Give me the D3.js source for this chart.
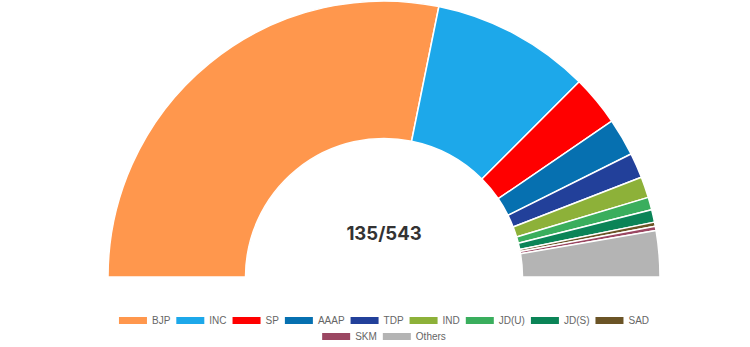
<!DOCTYPE html>
<html><head><meta charset="utf-8">
<script src="https://cdn.jsdelivr.net/npm/d3@7"></script>
<style>html,body{margin:0;padding:0;background:#fff;}svg{display:block;}</style>
</head><body>
<svg id="chart" width="750" height="347"></svg>
<script>
const parties = ["BJP","INC","SP","AAAP","TDP","IND","JD(U)","JD(S)","SAD","SKM","Others"];
const seats   = [115, 38, 12, 9, 6, 5, 3, 3, 1, 1, 11];
const colors  = ["#ff974d","#1da8ea","#ff0000","#0670b0","#22409a","#8db139","#3aae5d","#0b8457","#6b5426","#9b4762","#b4b4b4"];
const centerLabel = "135/543";
const legendRows = [9, 2];

const svg = d3.select("#chart");
const cx = 384, cy = 277, R = 276, r = 138.5;
const data = parties.map((p,i)=>({party:p, value:seats[i], color:colors[i]}));
const pie = d3.pie().value(d=>d.value).sort(null).startAngle(-Math.PI/2).endAngle(Math.PI/2);
const arc = d3.arc().innerRadius(r).outerRadius(R);
const g = svg.append("g").attr("transform",`translate(${cx},${cy})`);
g.selectAll("path").data(pie(data)).join("path")
  .attr("d",arc).attr("fill",d=>d.data.color)
  .attr("stroke","#fff").attr("stroke-width",1.5).attr("stroke-linejoin","round");

svg.append("text").attr("x",cx).attr("y",240).attr("text-anchor","middle")
  .attr("font-family","Inter, 'Open Sans', sans-serif").attr("font-weight",700)
  .attr("font-size",18.5).attr("fill","#333").text(centerLabel);

// legend
const boxW = 28, boxH = 7, gap = 5, pad = 6, fs = 10;
const rowY = [317, 333];
let idx = 0;
legendRows.forEach((n,ri)=>{
  const items = data.slice(idx, idx+n); idx += n;
  const lg = svg.append("g");
  const widths = [];
  const groups = items.map(d=>{
    const it = lg.append("g");
    it.append("rect").attr("width",boxW).attr("height",boxH).attr("fill",d.color);
    const t = it.append("text").attr("x",boxW+gap).attr("y",boxH/2).attr("dy","0.35em")
      .attr("font-family","'Liberation Sans', Arial, sans-serif").attr("font-size",fs)
      .attr("fill","#666").text(d.party);
    widths.push(boxW+gap+t.node().getComputedTextLength()+pad);
    return it;
  });
  const total = d3.sum(widths) - pad;
  let x = cx - total/2;
  groups.forEach((it,i)=>{ it.attr("transform",`translate(${x},${rowY[ri]})`); x += widths[i]; });
});
</script>
</body></html>
